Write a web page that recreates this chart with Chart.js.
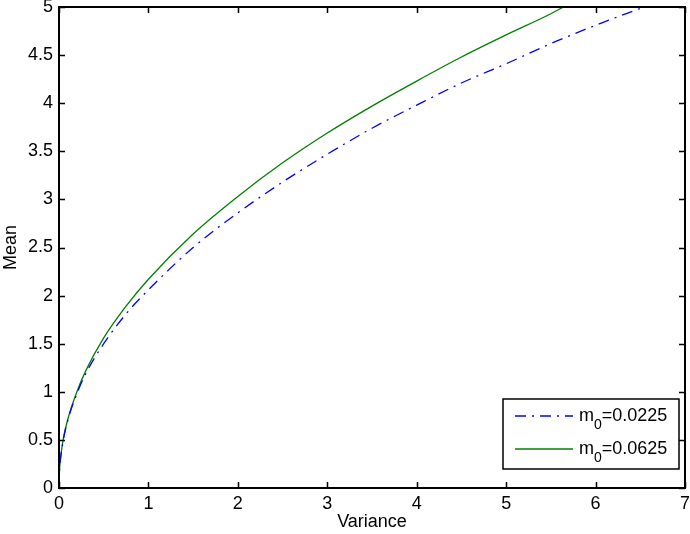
<!DOCTYPE html>
<html>
<head>
<meta charset="utf-8">
<script src="https://cdn.jsdelivr.net/npm/chart.js@4.4.1/dist/chart.umd.min.js"></script>
<style>
  html, body { margin: 0; padding: 0; background: #fff; }
  #wrap { width: 690px; height: 534px; }
</style>
</head>
<body>
<div id="wrap"><canvas id="myChart" width="690" height="534"></canvas></div>
<script>
// data
const varianceA = [0, 0.005, 0.01, 0.02, 0.05, 0.1, 0.2, 0.3, 0.5, 0.75, 1, 1.5, 2, 2.5, 3, 3.5, 4, 4.5, 5, 5.5, 6, 6.54];
const meanA     = [0, 0.17, 0.24, 0.33, 0.51, 0.71, 0.98, 1.19, 1.50, 1.81, 2.06, 2.50, 2.86, 3.18, 3.47, 3.74, 3.98, 4.21, 4.41, 4.62, 4.81, 5.0];
const varianceB = [0, 0.005, 0.01, 0.02, 0.05, 0.1, 0.2, 0.3, 0.5, 0.75, 1, 1.5, 2, 2.5, 3, 3.5, 4, 4.5, 5, 5.5, 5.64];
const meanB     = [0, 0.17, 0.24, 0.33, 0.52, 0.72, 1.00, 1.22, 1.56, 1.89, 2.17, 2.64, 3.03, 3.38, 3.69, 3.97, 4.23, 4.48, 4.71, 4.93, 5.0];
const seriesNames = ['0.0225', '0.0625'];
const xTickLabels = ['0', '1', '2', '3', '4', '5', '6', '7'];
const yTickLabels = ['0', '0.5', '1', '1.5', '2', '2.5', '3', '3.5', '4', '4.5', '5'];

const FONT = '"Liberation Sans", Arial, Helvetica, sans-serif';
const ctx = document.getElementById('myChart');

const toPoints = (xs, ys) => xs.map((x, i) => ({ x: x, y: ys[i] }));

// matlab style box, inward ticks and legend
const matlabBox = {
  id: 'matlabBox',
  afterDraw(chart) {
    const c = chart.ctx;
    const a = chart.chartArea;
    const xs = chart.scales.x, ys = chart.scales.y;
    c.save();
    c.strokeStyle = '#000';
    c.lineWidth = 2;
    c.strokeRect(a.left, a.top, a.right - a.left, a.bottom - a.top);
    c.lineWidth = 1.5;
    c.beginPath();
    xTickLabels.forEach(t => {
      const px = Math.round(xs.getPixelForValue(Number(t))) + 0.5;
      c.moveTo(px, a.bottom); c.lineTo(px, a.bottom - 6);
      c.moveTo(px, a.top); c.lineTo(px, a.top + 6);
    });
    yTickLabels.forEach(t => {
      const py = Math.round(ys.getPixelForValue(Number(t))) + 0.5;
      c.moveTo(a.left, py); c.lineTo(a.left + 6, py);
      c.moveTo(a.right, py); c.lineTo(a.right - 6, py);
    });
    c.stroke();

    // legend
    const lx = 503, ly = 399, lw = 176, lh = 70;
    c.fillStyle = '#fff';
    c.fillRect(lx, ly, lw, lh);
    c.lineWidth = 1.5;
    c.strokeStyle = '#000';
    c.strokeRect(lx, ly, lw, lh);
    chart.data.datasets.forEach((ds, i) => {
      const yy = ly + 17 + i * 33;
      c.beginPath();
      c.strokeStyle = ds.borderColor;
      c.lineWidth = ds.borderWidth;
      c.setLineDash(ds.borderDash || []);
      c.moveTo(515, yy); c.lineTo(573, yy);
      c.stroke();
      c.setLineDash([]);
      c.fillStyle = '#000';
      c.textBaseline = 'middle';
      c.textAlign = 'left';
      c.font = '18px ' + FONT;
      c.fillText('m', 579, yy);
      const mw = c.measureText('m').width;
      c.font = '14px ' + FONT;
      c.fillText('0', 579 + mw, yy + 9);
      const zw = c.measureText('0').width;
      c.font = '18px ' + FONT;
      c.fillText('=' + seriesNames[i], 579 + mw + zw, yy);
    });
    c.restore();
  }
};

new Chart(ctx, {
  type: 'line',
  data: {
    datasets: [{
      label: 'm0=' + seriesNames[0],
      data: toPoints(varianceA, meanA),
      borderColor: '#0000ff',
      borderWidth: 1.3,
      borderDash: [11, 6, 2, 6],
      pointRadius: 0,
      cubicInterpolationMode: 'monotone',
      fill: false
    }, {
      label: 'm0=' + seriesNames[1],
      data: toPoints(varianceB, meanB),
      borderColor: '#007f00',
      borderWidth: 1.3,
      pointRadius: 0,
      cubicInterpolationMode: 'monotone',
      fill: false
    }]
  },
  options: {
    responsive: false,
    animation: false,
    layout: { padding: { left: 0, right: 5, top: 7, bottom: 0 } },
    plugins: { legend: { display: false }, tooltip: { enabled: false } },
    scales: {
      x: {
        type: 'linear',
        min: 0, max: 7,
        afterBuildTicks: s => { s.ticks = xTickLabels.map(v => ({ value: Number(v) })); },
        afterFit: s => { s.height = 46; s.paddingLeft = 0; s.paddingRight = 0; },
        grid: { display: false, drawTicks: false },
        border: { display: false },
        ticks: {
          color: '#000', padding: 5,
          font: { family: FONT, size: 18 },
          callback: (v, i) => xTickLabels[i]
        },
        title: { display: true, text: 'Variance', color: '#000', padding: { top: 0, bottom: 1 }, font: { family: FONT, size: 18 } }
      },
      y: {
        min: 0, max: 5,
        afterBuildTicks: s => { s.ticks = yTickLabels.map(v => ({ value: Number(v) })); },
        afterFit: s => { s.width = 59; s.paddingTop = 0; s.paddingBottom = 0; },
        grid: { display: false, drawTicks: false },
        border: { display: false },
        ticks: {
          color: '#000', padding: 6,
          font: { family: FONT, size: 18 },
          callback: (v, i) => yTickLabels[i]
        },
        title: { display: true, text: 'Mean', color: '#000', padding: { top: 0, bottom: 0 }, font: { family: FONT, size: 18 } }
      }
    }
  },
  plugins: [matlabBox]
});
</script>
</body>
</html>
